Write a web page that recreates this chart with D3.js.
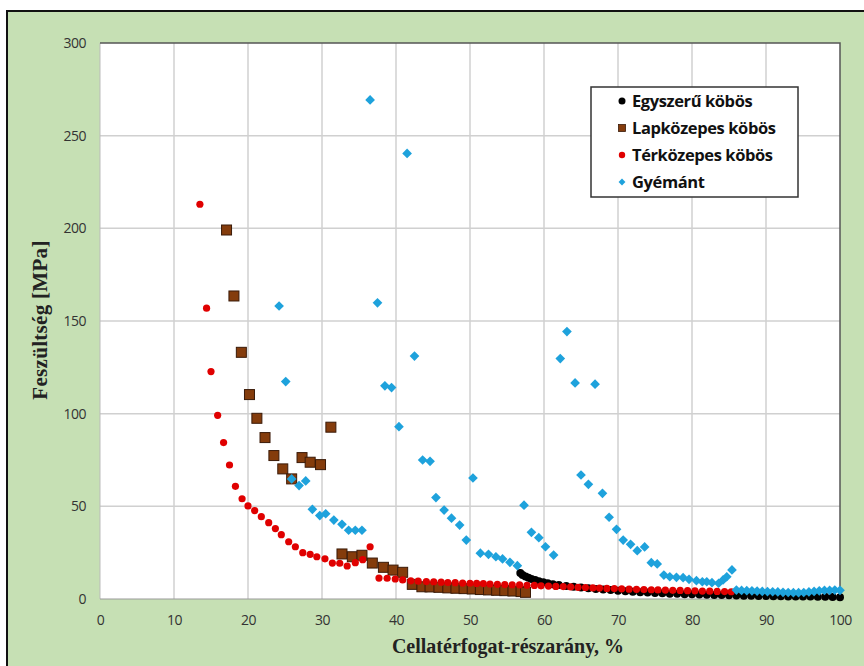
<!DOCTYPE html>
<html>
<head>
<meta charset="utf-8">
<script src="https://cdn.jsdelivr.net/npm/d3@7"></script>
<style>
  html, body { margin: 0; padding: 0; background: #fff; }
  svg { display: block; }
</style>
</head>
<body>
<div id="chart"></div>
<script>
// series data: [volume fraction %, stress MPa]
var egyszeru = [
  [56.8, 14.0], [57.1, 13.0], [57.5, 12.2], [57.9, 11.4], [58.3, 10.8], [58.8, 10.2],
  [59.3, 9.6], [59.9, 9.0], [60.5, 8.5], [61.2, 8.0], [62, 7.5], [63, 7.0], [64, 6.6],
  [65, 6.2], [66, 5.8], [67, 5.4], [68, 5.1], [69, 4.8], [70, 4.5], [71, 4.2], [72, 3.9],
  [73, 3.7], [74, 3.5], [75, 3.3], [76, 3.1], [77, 2.9], [78, 2.8], [79, 2.6], [80, 2.5],
  [81, 2.4], [82, 2.3], [83, 2.2], [84, 2.1], [85, 2.0], [86, 1.9], [87, 1.8], [88, 1.7],
  [89, 1.6], [90, 1.6], [91, 1.5], [92, 1.5], [93, 1.4], [94, 1.4], [95, 1.3], [96, 1.3],
  [97, 1.2], [98, 1.2], [99, 1.1], [100, 1.0]
];
var lapkozepes = [
  [17.1, 199.1], [18.1, 163.5], [19.1, 133.1], [20.2, 110.3], [21.2, 97.5], [22.3, 87.1],
  [23.5, 77.4], [24.7, 70.2], [25.9, 64.8], [27.3, 76.3], [28.4, 73.8], [29.8, 72.5],
  [31.2, 92.7], [32.7, 24.3], [34.1, 22.8], [35.4, 23.6], [36.8, 19.4], [38.3, 17.1],
  [39.6, 15.6], [40.9, 14.4], [42.2, 7.9], [43.5, 6.6], [44.6, 6.5], [45.8, 6.3],
  [47.0, 6.0], [48.1, 5.8], [49.2, 5.6], [50.3, 5.4], [51.4, 5.1], [52.5, 4.9],
  [53.6, 4.7], [54.7, 4.5], [55.8, 4.3], [56.9, 4.0], [57.5, 3.6]
];
var terkozepes = [
  [13.5, 213.0], [14.4, 156.9], [15.0, 122.7], [15.9, 99.1], [16.7, 84.4], [17.5, 72.3],
  [18.3, 60.8], [19.2, 54.1], [20.0, 50.2], [20.9, 47.7], [21.8, 44.4], [22.8, 41.2],
  [23.7, 38.0], [24.5, 34.7], [25.5, 30.9], [26.4, 28.2], [27.4, 25.0], [28.4, 24.1],
  [29.3, 22.8], [30.4, 21.7], [31.4, 19.4], [32.4, 19.3], [33.4, 17.8], [34.5, 19.6],
  [35.5, 21.2], [36.5, 28.2], [37.7, 11.3], [38.8, 11.2], [39.9, 10.8], [40.9, 10.3],
  [42.0, 9.8], [43.0, 9.6], [44.1, 9.4], [45.1, 9.3], [46.1, 9.1], [47.0, 8.9],
  [48.0, 8.8], [49.0, 8.6], [50.0, 8.5], [50.9, 8.4], [51.8, 8.3], [52.7, 8.1],
  [53.7, 7.9], [54.7, 7.8], [55.7, 7.7], [56.7, 7.6], [57.7, 7.4], [58.7, 7.3],
  [59.6, 7.1], [60.6, 7.0], [61.6, 6.8], [62.6, 6.7], [63.6, 6.5], [64.6, 6.3],
  [65.6, 6.2], [66.6, 6.0], [67.5, 5.9], [68.5, 5.7], [69.5, 5.6], [70.5, 5.5],
  [71.5, 5.3], [72.5, 5.2], [73.5, 5.1], [74.5, 5.0], [75.4, 4.9], [76.4, 4.8],
  [77.4, 4.7], [78.4, 4.6], [79.4, 4.5], [80.4, 4.4], [81.4, 4.3], [82.4, 4.2],
  [83.4, 4.1], [84.4, 4.0], [85.3, 3.9]
];
var gyemant = [
  [24.2, 158.1], [25.1, 117.3], [25.9, 64.8], [26.9, 61.2], [27.8, 63.7], [28.7, 48.4],
  [29.7, 45.0], [30.5, 46.0], [31.6, 42.6], [32.7, 40.3], [33.6, 37.1], [34.5, 37.1],
  [35.4, 37.1], [36.5, 269.3], [37.5, 159.8], [38.5, 115.0], [39.4, 114.1], [40.4, 93.0],
  [41.5, 240.4], [42.5, 131.1], [43.6, 75.0], [44.6, 74.3], [45.4, 54.7], [46.5, 48.0],
  [47.5, 43.6], [48.6, 39.9], [49.5, 31.8], [50.4, 65.3], [51.4, 24.7], [52.5, 24.1],
  [53.5, 22.8], [54.4, 21.6], [55.4, 19.8], [56.4, 18.0], [57.3, 50.6], [58.3, 36.0],
  [59.3, 33.1], [60.2, 28.2], [61.3, 23.7], [62.2, 129.7], [63.1, 144.3], [64.2, 116.6],
  [65.0, 66.9], [66.0, 61.9], [66.9, 115.9], [67.9, 57.0], [68.8, 44.1], [69.8, 37.6],
  [70.7, 31.8], [71.7, 29.5], [72.6, 26.1], [73.6, 28.1], [74.5, 19.6], [75.3, 18.9],
  [76.2, 12.9], [77.0, 12.0], [77.9, 11.7], [78.8, 11.5], [79.6, 10.6], [80.6, 9.9],
  [81.4, 9.3], [82.0, 9.3], [82.7, 8.8], [83.6, 8.5], [84.2, 10.3], [84.7, 12.0],
  [85.4, 15.7], [86.0, 4.8], [86.7, 4.6], [87.4, 4.5], [88.1, 4.4], [88.8, 4.3],
  [89.5, 4.1], [90.2, 4.0], [90.9, 3.9], [91.6, 3.8], [92.3, 3.6], [93.0, 3.5],
  [93.7, 3.4], [94.4, 3.4], [95.1, 3.5], [95.8, 3.8], [96.5, 4.1], [97.2, 4.4],
  [97.9, 4.6], [98.6, 4.7], [99.3, 4.8], [100.0, 4.7]
];

var seriesNames = ["Egyszerű köbös", "Lapközepes köbös", "Térközepes köbös", "Gyémánt"];
var xTicks = [0, 10, 20, 30, 40, 50, 60, 70, 80, 90, 100];
var yTicks = [0, 50, 100, 150, 200, 250, 300];

var width = 864, height = 666;
var plot = {left: 100, top: 43, right: 840, bottom: 599};

var svg = d3.select("#chart").append("svg")
    .attr("width", width)
    .attr("height", height);

// green frame
svg.append("rect")
    .attr("x", 7).attr("y", 11)
    .attr("width", 880).attr("height", 680)
    .attr("fill", "#c6e0b4")
    .attr("stroke", "#111")
    .attr("stroke-width", 2);

svg.append("rect")
    .attr("x", plot.left).attr("y", plot.top)
    .attr("width", plot.right - plot.left).attr("height", plot.bottom - plot.top)
    .attr("fill", "#fff");

var x = d3.scaleLinear().domain([0, 100]).range([plot.left, plot.right]);
var y = d3.scaleLinear().domain([0, 300]).range([plot.bottom, plot.top]);

// grid
var grid = svg.append("g");
grid.selectAll(".gx")
    .data(xTicks.slice(1, -1))
    .join("line")
    .attr("x1", d => x(d)).attr("x2", d => x(d))
    .attr("y1", plot.top).attr("y2", plot.bottom)
    .attr("stroke", "#d0d0d0").attr("stroke-width", 1.5);
grid.selectAll(".gy")
    .data(yTicks.slice(1, -1))
    .join("line")
    .attr("x1", plot.left).attr("x2", plot.right)
    .attr("y1", d => y(d)).attr("y2", d => y(d))
    .attr("stroke", "#d0d0d0").attr("stroke-width", 1.5);

// axes (labels only, Excel style)
var tickFont = "'Liberation Sans Narrow', 'Open Sans', sans-serif";
var xAxis = svg.append("g")
    .attr("transform", "translate(0," + plot.bottom + ")")
    .call(d3.axisBottom(x).tickValues(xTicks).tickSize(0).tickPadding(16));
var yAxis = svg.append("g")
    .attr("transform", "translate(" + plot.left + ",0)")
    .call(d3.axisLeft(y).tickValues(yTicks).tickSize(0).tickPadding(14));
[xAxis, yAxis].forEach(function(a) {
    a.select(".domain").remove();
    a.selectAll("text")
        .attr("fill", "#333")
        .style("font-family", tickFont)
        .style("font-size", "14px")
        .style("letter-spacing", "-0.5px");
});

// plot frame
svg.append("line")
    .attr("x1", plot.left).attr("x2", plot.left)
    .attr("y1", plot.top).attr("y2", plot.bottom)
    .attr("stroke", "#bbb").attr("stroke-width", 1);
svg.append("path")
    .attr("d", "M" + plot.left + "," + plot.top + "H" + plot.right + "V" + plot.bottom)
    .attr("fill", "none")
    .attr("stroke", "#555").attr("stroke-width", 1.5);
svg.append("line")
    .attr("x1", plot.left).attr("x2", plot.right)
    .attr("y1", plot.bottom).attr("y2", plot.bottom)
    .attr("stroke", "#999").attr("stroke-width", 1);

// markers
var marks = svg.append("g");
var diamond = d3.symbol().type(d3.symbolDiamond2).size(60);

marks.append("g").selectAll("circle")
    .data(egyszeru)
    .join("circle")
    .attr("cx", d => x(d[0])).attr("cy", d => y(d[1]))
    .attr("r", 4)
    .attr("fill", "#000");

marks.append("g").selectAll("rect")
    .data(lapkozepes)
    .join("rect")
    .attr("x", d => x(d[0]) - 5).attr("y", d => y(d[1]) - 5)
    .attr("width", 10).attr("height", 10)
    .attr("fill", "#843c0c")
    .attr("stroke", "#3a1a08").attr("stroke-width", 1);

marks.append("g").selectAll("circle")
    .data(terkozepes)
    .join("circle")
    .attr("cx", d => x(d[0])).attr("cy", d => y(d[1]))
    .attr("r", 3.6)
    .attr("fill", "#e00000");

marks.append("g").selectAll("path")
    .data(gyemant)
    .join("path")
    .attr("transform", d => "translate(" + x(d[0]) + "," + y(d[1]) + ")")
    .attr("d", diamond)
    .attr("fill", "#1ea2dc");

// legend
var lg = svg.append("g").attr("transform", "translate(591,87)");
lg.append("rect")
    .attr("width", 207).attr("height", 110)
    .attr("fill", "#fff")
    .attr("stroke", "#333").attr("stroke-width", 1.5);
var rowY = d3.scalePoint().domain(seriesNames).range([14, 95]);
var rows = lg.selectAll(".row")
    .data(seriesNames)
    .join("g")
    .attr("transform", d => "translate(31," + rowY(d) + ")");
rows.each(function(d, i) {
    var r = d3.select(this);
    if (i == 0) r.append("circle").attr("r", 3.5).attr("fill", "#000");
    if (i == 1) r.append("rect").attr("x", -3.5).attr("y", -3.5).attr("width", 7).attr("height", 7)
        .attr("fill", "#843c0c").attr("stroke", "#3a1a08").attr("stroke-width", 0.8);
    if (i == 2) r.append("circle").attr("r", 3.2).attr("fill", "#e00000");
    if (i == 3) r.append("path").attr("d", d3.symbol().type(d3.symbolDiamond2).size(30)).attr("fill", "#1ea2dc");
});
rows.append("text")
    .attr("x", 10).attr("dy", "0.35em")
    .attr("fill", "#111")
    .style("font-family", tickFont)
    .style("font-size", "16.5px")
    .style("font-weight", "bold")
    .style("letter-spacing", "-0.4px")
    .text(d => d);

// axis titles
var titleFont = "'Liberation Serif', 'DejaVu Serif', serif";
svg.append("text")
    .attr("x", 508)
    .attr("y", 653)
    .attr("text-anchor", "middle")
    .attr("fill", "#222")
    .style("font-family", titleFont)
    .style("font-size", "20px")
    .style("font-weight", "bold")
    .text("Cellatérfogat-részarány, %");
svg.append("text")
    .attr("transform", "translate(47,320) rotate(-90)")
    .attr("text-anchor", "middle")
    .attr("fill", "#222")
    .style("font-family", titleFont)
    .style("font-size", "21px")
    .style("font-weight", "bold")
    .style("letter-spacing", "0.3px")
    .text("Feszültség [MPa]");
</script>
</body>
</html>
